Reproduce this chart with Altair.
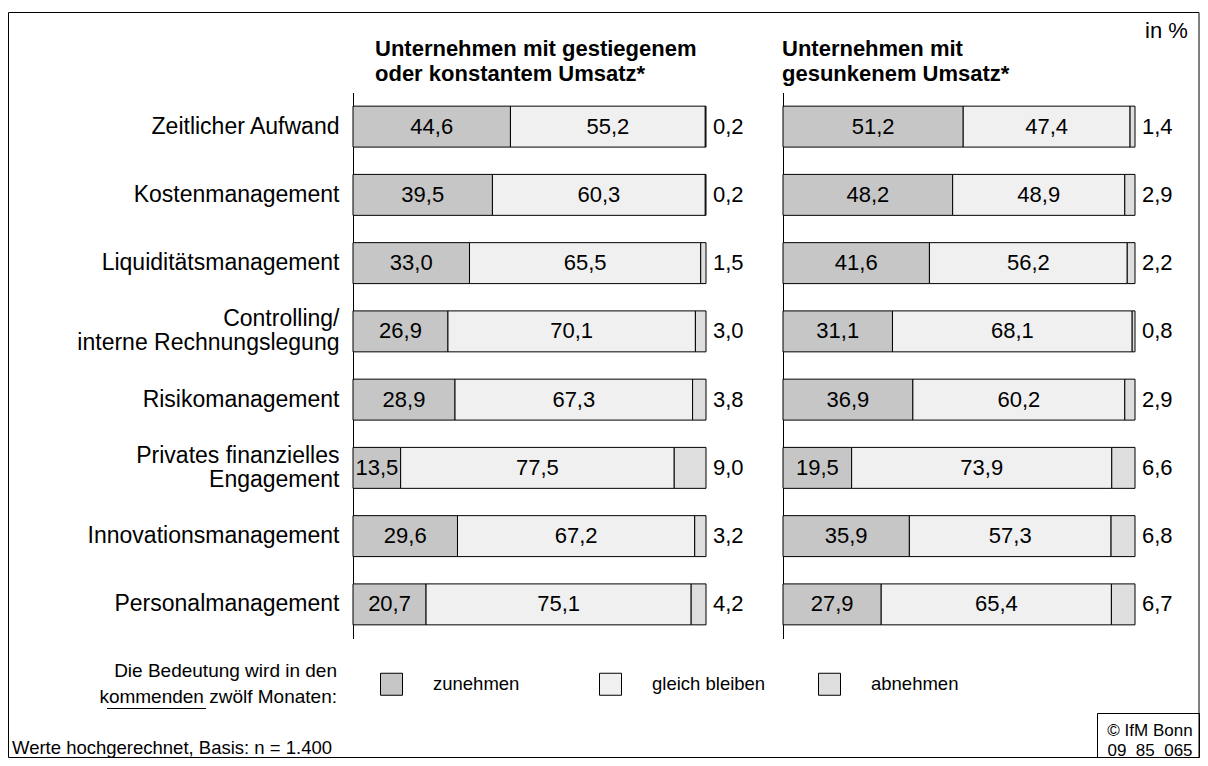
import altair as alt
import pandas as pd

# ---------------- data ----------------
categories = [
    "Zeitlicher Aufwand",
    "Kostenmanagement",
    "Liquiditätsmanagement",
    "Controlling/|interne Rechnungslegung",
    "Risikomanagement",
    "Privates finanzielles|Engagement",
    "Innovationsmanagement",
    "Personalmanagement",
]
kinds = ["zunehmen", "gleich bleiben", "abnehmen"]

left_zunehmen = [44.6, 39.5, 33.0, 26.9, 28.9, 13.5, 29.6, 20.7]
left_gleich = [55.2, 60.3, 65.5, 70.1, 67.3, 77.5, 67.2, 75.1]
left_abnehmen = [0.2, 0.2, 1.5, 3.0, 3.8, 9.0, 3.2, 4.2]

right_zunehmen = [51.2, 48.2, 41.6, 31.1, 36.9, 19.5, 35.9, 27.9]
right_gleich = [47.4, 48.9, 56.2, 68.1, 60.2, 73.9, 57.3, 65.4]
right_abnehmen = [1.4, 2.9, 2.2, 0.8, 2.9, 6.6, 6.8, 6.7]

left_title = ["Unternehmen mit gestiegenem", "oder konstantem Umsatz*"]
right_title = ["Unternehmen mit", "gesunkenem Umsatz*"]
unit_text = "in %"
legend_title = ["Die Bedeutung wird in den", "kommenden zwölf Monaten:"]
footer_text = "Werte hochgerechnet, Basis: n = 1.400"
copyright_text = ["© IfM Bonn", "09\u00a0 85\u00a0 065"]


def long_table(series):
    rows = []
    for i, cat in enumerate(categories):
        for k, (kind, vals) in enumerate(zip(kinds, series)):
            rows.append({"cat": cat, "kind": kind, "order": k, "value": vals[i]})
    return pd.DataFrame(rows)


df_left = long_table((left_zunehmen, left_gleich, left_abnehmen))
df_right = long_table((right_zunehmen, right_gleich, right_abnehmen))
deco = pd.DataFrame({"d": [0]})

# ---------------- style ----------------
FONT = "Liberation Sans"
FS = 22
FS_CAT = 23
FS_SMALL = 18.5
fills = ["#c6c6c6", "#f0f0f0", "#dedede"]
PW_L, PW_R, PH = 353, 352, 546

xscale = alt.Scale(domain=[0, 100], nice=False, zero=True)
yscale = alt.Scale(paddingInner=0.4, paddingOuter=0.2)

color = alt.Color(
    "kind:N",
    scale=alt.Scale(domain=kinds, range=fills),
    legend=alt.Legend(
        title=None,
        orient="none",
        legendX=27,
        legendY=580,
        direction="horizontal",
        symbolType="square",
        symbolSize=484,
        symbolStrokeColor="black",
        symbolStrokeWidth=1,
        symbolOpacity=1,
        labelFont=FONT,
        labelFontSize=FS_SMALL,
        labelColor="black",
        labelOffset=30,
        columnPadding=50,
        gridAlign="all",
        padding=0,
    ),
)


def panel(df, axis, width, extras):
    y = alt.Y("cat:N", sort=categories, scale=yscale, axis=axis)
    base = alt.Chart(df)
    bars = base.mark_bar(stroke="black", strokeWidth=1).encode(
        x=alt.X("value:Q", stack="zero", scale=xscale, axis=None),
        y=y,
        color=color,
        order=alt.Order("order:Q", sort="ascending"),
    )
    stacked = base.transform_stack(
        stack="value",
        groupby=["cat"],
        as_=["v0", "v1"],
        sort=[alt.SortField("order", order="ascending")],
    ).transform_calculate(
        mid="(datum.v0 + datum.v1) / 2",
        lab="replace(format(datum.value, '.1f'), '.', ',')",
    )
    inner = stacked.transform_filter("datum.kind != 'abnehmen'").mark_text(
        font=FONT, fontSize=FS, color="black"
    ).encode(
        x=alt.X("mid:Q", scale=xscale, axis=None),
        y=alt.Y("cat:N", sort=categories, scale=yscale),
        text="lab:N",
    )
    outer = stacked.transform_filter("datum.kind == 'abnehmen'").mark_text(
        font=FONT, fontSize=FS, color="black", align="left", dx=7
    ).encode(
        x=alt.X("v1:Q", scale=xscale, axis=None),
        y=alt.Y("cat:N", sort=categories, scale=yscale),
        text="lab:N",
    )
    return alt.layer(bars, inner, outer, *extras).properties(width=width, height=PH)


def txt(text, x, y, size=FS, bold=False, align="left", lh=25):
    # y is the position of the first line
    return alt.Chart(deco).mark_text(
        text=text,
        font=FONT,
        fontSize=size,
        fontWeight="bold" if bold else "normal",
        align=align,
        baseline="middle",
        lineHeight=lh,
        color="black",
    ).encode(x=alt.value(x), y=alt.value(y))


frame = alt.Chart(deco).mark_rect(
    fillOpacity=0, stroke="black", strokeWidth=1
).encode(x=alt.value(-344.5), x2=alt.value(846), y=alt.value(-80), y2=alt.value(665))

underline = alt.Chart(deco).mark_rule(color="black", strokeWidth=1.2).encode(
    x=alt.value(-246), x2=alt.value(-147), y=alt.value(616)
)

left_extras = [
    frame,
    txt(left_title, 22, -44, bold=True),
    txt(legend_title, -16, 578, size=19, align="right", lh=26),
    underline,
    txt(footer_text, -341, 655, size=FS_SMALL),
]

copyright_box = alt.Chart(deco).mark_rect(
    fillOpacity=0, stroke="black", strokeWidth=1
).encode(x=alt.value(314.5), x2=alt.value(416.5), y=alt.value(621), y2=alt.value(665))

right_extras = [
    txt(right_title, -1, -44, bold=True),
    txt(unit_text, 362, -62, size=22),
    copyright_box,
    txt(copyright_text, 367, 638, size=17, align="center", lh=20),
]

left_axis = alt.Axis(
    title=None,
    ticks=False,
    grid=False,
    domainColor="black",
    domainWidth=1,
    labelFont=FONT,
    labelFontSize=FS_CAT,
    labelColor="black",
    labelPadding=14,
    labelLimit=400,
    labelLineHeight=24,
    labelOffset={"condition": {"test": "indexof(datum.label, '|') >= 0", "value": -12}, "value": 0},
    labelExpr="split(datum.label, '|')",
)
right_axis = alt.Axis(
    title=None, ticks=False, labels=False, grid=False, domainColor="black", domainWidth=1
)

left = panel(df_left, left_axis, PW_L, left_extras)
right = panel(df_right, right_axis, PW_R, right_extras)

chart = (
    alt.hconcat(left, right, spacing=77, bounds="flush")
    .properties(padding={"left": 0, "top": 3.5, "right": 0, "bottom": 0})
    .configure_view(strokeWidth=0)
    .configure_text(font=FONT)
)

chart.save("out.html", embed_options={"renderer": "svg", "actions": False})
